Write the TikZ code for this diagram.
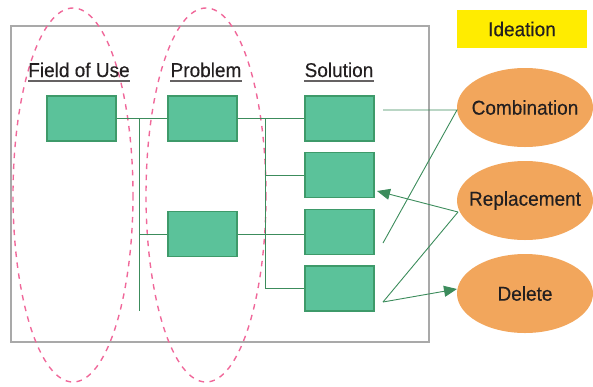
\documentclass[tikz,border=0pt]{standalone}
\usepackage{fontspec}
\setmainfont{Liberation Sans}
\newfontfamily\condfont[FakeStretch=0.95,FakeBold=0.3]{Liberation Sans}
\usetikzlibrary{arrows.meta,shapes.geometric}
\definecolor{boxfill}{HTML}{5BC29A}
\definecolor{boxline}{HTML}{3E9A6A}
\definecolor{wire}{HTML}{3C8C5C}
\definecolor{orangefill}{HTML}{F2A65C}
\definecolor{pinkdash}{HTML}{F0689A}
\definecolor{framegray}{HTML}{A9A9A9}
\definecolor{yellowfill}{HTML}{FFEC00}
\definecolor{txt}{HTML}{231F20}
\tikzset{
  gbox/.style={draw=boxline, line width=1.2pt, fill=boxfill, minimum width=69pt, minimum height=45pt, inner sep=0pt},
  oval/.style={ellipse, fill=orangefill, minimum width=136pt, minimum height=79pt, inner sep=0pt, text=txt, font=\condfont\fontsize{20}{22}\selectfont},
  wirel/.style={draw=wire, line width=0.9pt},
  arr/.style={wirel, -{Triangle[length=13pt, width=11pt]}},
  head/.style={text=txt, font=\condfont\fontsize{20}{22}\selectfont, inner sep=0pt, anchor=base},
  uline/.style={draw=txt!70, line width=1.8pt},
  dashell/.style={draw=pinkdash, line width=1.4pt, dash pattern=on 5.5pt off 5.5pt}
}
\begin{document}
\begin{tikzpicture}[x=1pt,y=-1pt]
\useasboundingbox (0,0) rectangle (593,386);
% frame
\draw[framegray, line width=1.5pt] (11,26) rectangle (429,342);
% dashed ellipses
\draw[dashell] (73,195) ellipse [x radius=60, y radius=187];
\draw[dashell] (206,195) ellipse [x radius=60, y radius=187];
% Ideation
\node[fill=yellowfill, minimum width=130pt, minimum height=38pt, inner sep=0pt, text=txt, font=\condfont\fontsize{20}{22}\selectfont] (idea) at (522,29) {Ideation};
% headings
\node[head] (hf) at (79,77) {Field of Use};
\node[head] (hp) at (206,77) {Problem};
\node[head] (hs) at (339,77) {Solution};
\foreach \h in {hf,hp,hs}{
  \draw[uline] ([yshift=-4pt]\h.base west) -- ([yshift=-4pt]\h.base east);
}
% boxes
\node[gbox] (f1) at (81.5,118.5) {};
\node[gbox] (p1) at (202.5,118.5) {};
\node[gbox] (p2) at (202.5,234) {};
\node[gbox] (s1) at (339.5,118.5) {};
\node[gbox] (s2) at (339.5,175) {};
\node[gbox] (s3) at (339.5,232) {};
\node[gbox] (s4) at (339.5,288.5) {};
% tree wires
\coordinate (va) at (139,118.5);
\coordinate (vaend) at (139,311);
\coordinate (vb) at (139,234);
\coordinate (vc) at (265,118.5);
\coordinate (vcend) at (265,288.5);
\draw[wirel] (f1.east) -- (p1.west);
\draw[wirel] (va) -- (vaend);
\draw[wirel] (vb) -- (p2.west);
\draw[wirel] (p1.east) -- (s1.west);
\draw[wirel] (vc) -- (vcend) -- (s4.west);
\draw[wirel] (vc |- s2.west) -- (s2.west);
\draw[wirel] (p2.east) -- (s3.west |- p2.east);
% ovals
\node[oval] (comb) at (525,107.5) {\makebox[0pt]{Combination}};
\node[oval] (repl) at (525,200.5) {\makebox[0pt]{Replacement}};
\node[oval] (del) at (525,293.5) {\makebox[0pt]{Delete}};
% ideation wires
\coordinate (c1) at (383,110);
\coordinate (cw) at (457,110);
\coordinate (c3) at (383,243);
\coordinate (rw) at (458,212);
\coordinate (c2) at (377,191);
\coordinate (c4) at (383,302);
\coordinate (dw) at (457,289);
\draw[wirel] (c1) -- (cw) -- (c3);
\draw[arr] (rw) -- (c2);
\draw[wirel] (rw) -- (c4);
\draw[arr] (c4) -- (dw);
\end{tikzpicture}
\end{document}
